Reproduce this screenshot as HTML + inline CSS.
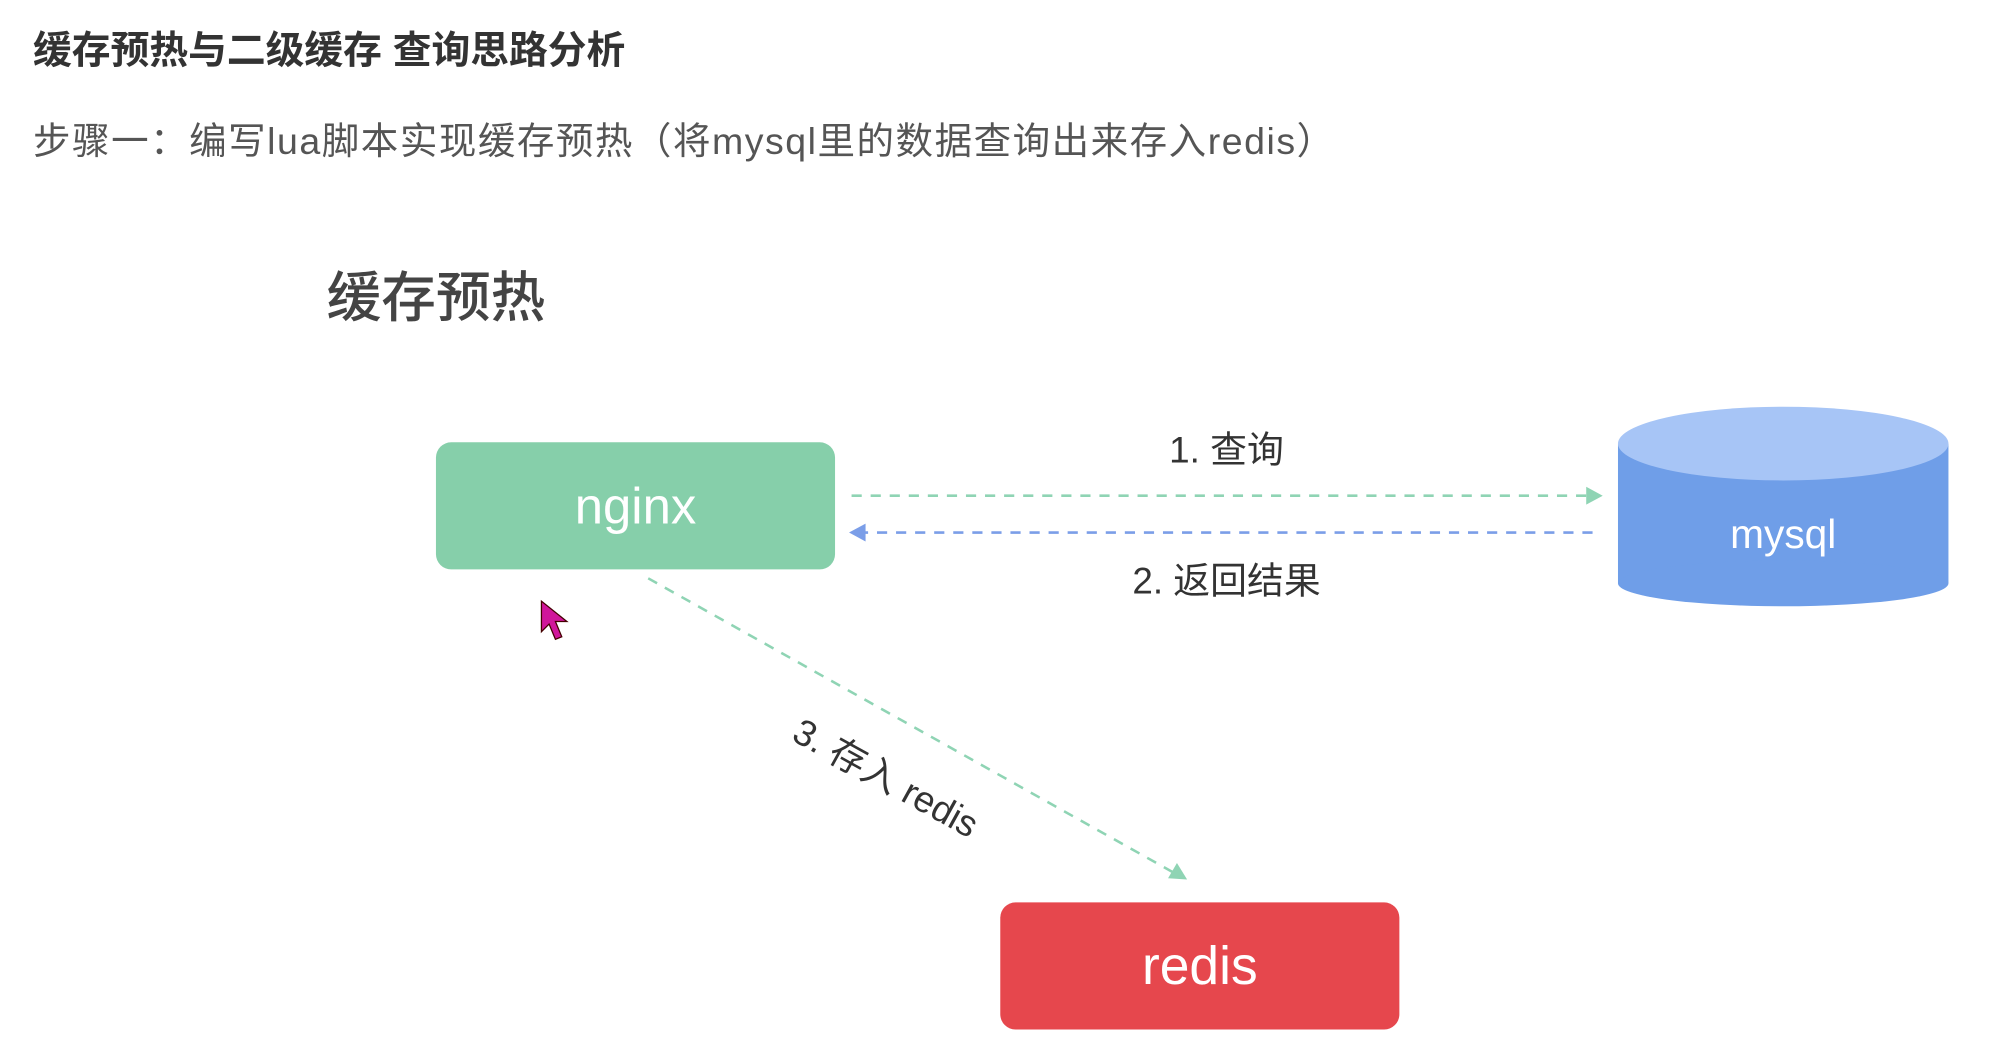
<!DOCTYPE html>
<html><head><meta charset="utf-8"><style>
html,body{margin:0;padding:0;background:#fff;overflow:hidden;width:1994px;height:1060px}
#w{position:absolute;left:0;top:0;width:1570px;height:834px;transform-origin:0 0;transform:scale(1.271,1.271);font-family:"Liberation Sans","Noto Sans CJK SC",sans-serif}
.t{position:absolute;white-space:nowrap}
</style></head><body><div id="w">
<div class="t" style="left:26px;top:15px;font-size:30.5px;font-weight:bold;color:#333">缓存预热与二级缓存 查询思路分析</div>
<div class="t" style="left:26px;top:88px;font-size:29.5px;color:#555;letter-spacing:1.2px">步骤一：编写lua脚本实现缓存预热（将mysql里的数据查询出来存入redis）</div>
<div class="t" style="left:257px;top:200px;font-size:43px;color:#444;font-weight:500">缓存预热</div>
<svg style="position:absolute;left:0;top:0" width="1570" height="834">
<rect x="343" y="348" width="314" height="100" rx="12" fill="#86cfaa"/>
<text x="500" y="412" font-size="40" fill="#fff" text-anchor="middle" font-family="Liberation Sans,sans-serif">nginx</text>
<rect x="1273" y="349" width="260" height="110" fill="#6f9ee8"/>
<ellipse cx="1403" cy="459" rx="130" ry="18" fill="#6f9ee8"/>
<ellipse cx="1403" cy="349" rx="130" ry="29" fill="#a7c5f6"/>
<text x="1403" y="431" font-size="32" fill="#fff" text-anchor="middle" font-family="Liberation Sans,sans-serif">mysql</text>
<rect x="787" y="710" width="314" height="100" rx="12" fill="#e6474d"/>
<text x="944" y="774" font-size="42" fill="#fff" text-anchor="middle" font-family="Liberation Sans,sans-serif">redis</text>
<line x1="670" y1="390" x2="1255" y2="390" stroke="#8fd4b4" stroke-width="2" stroke-dasharray="8,7"/>
<path d="M1261 390 L1248 383 L1248 397Z" fill="#8fd4b4"/>
<line x1="675" y1="419" x2="1260" y2="419" stroke="#7b9ee8" stroke-width="2" stroke-dasharray="8,7"/>
<path d="M668 419 L681 412 L681 426Z" fill="#7b9ee8"/>
<line x1="510" y1="455" x2="926" y2="688" stroke="#8fd4b4" stroke-width="2" stroke-dasharray="8,7"/>
<path d="M934 692 L919 691 L926 679Z" fill="#8fd4b4"/>
<text x="965" y="364" font-size="29" fill="#333" text-anchor="middle">1. 查询</text>
<text x="965" y="467" font-size="29" fill="#333" text-anchor="middle">2. 返回结果</text>
<text x="697" y="622" font-size="29" fill="#333" text-anchor="middle" transform="rotate(29 697 612)">3. 存入 redis</text>
<path d="M426 473 L426 497 L432 491 L437 503 L442 501 L437 489 L446 489Z" fill="#d0169b" stroke="#400" stroke-width="1"/>
</svg>
</div></body></html>
